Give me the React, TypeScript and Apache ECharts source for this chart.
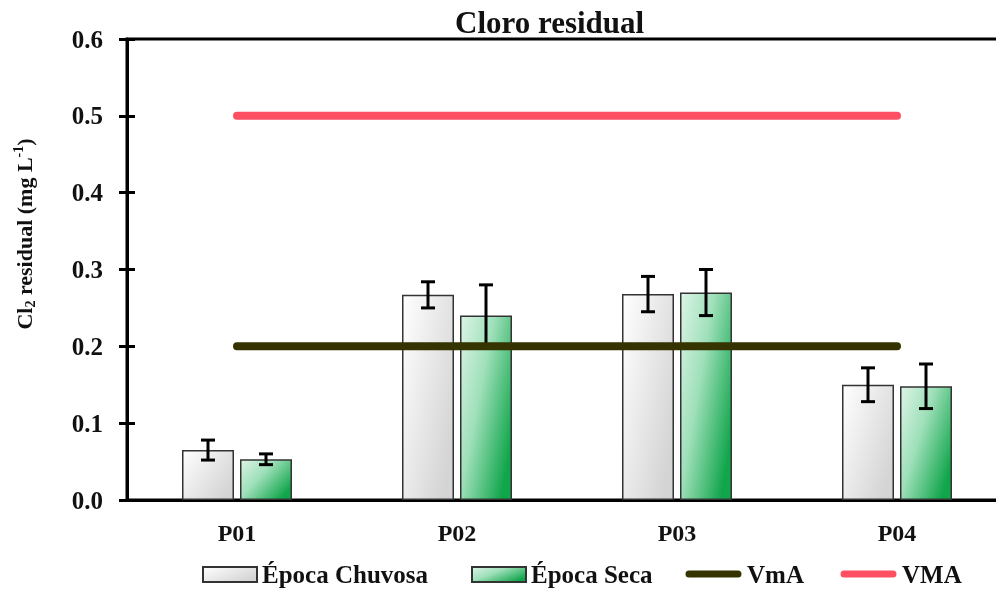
import React, { useEffect, useRef } from "react";
import * as echarts from "echarts";

const categories = ["P01", "P02", "P03", "P04"];
const chuvosa = [0.065, 0.267, 0.268, 0.15];
const chuvosaErr = [0.013, 0.017, 0.023, 0.022];
const seca = [0.053, 0.24, 0.27, 0.148];
const secaErr = [0.007, 0.04, 0.03, 0.029];
const vmaValue = [0.5, 0.5, 0.5, 0.5];
const vmaLow = [0.2, 0.2, 0.2, 0.2];
const yTicks = { min: 0, max: 0.6, interval: 0.1 };
const legendNames = ["Época Chuvosa", "Época Seca", "VmA", "VMA"];

const FONT = "'Liberation Serif', 'Times New Roman', serif";
const TXT = "#111";
const BAR_W = 52;
const GAP_PX = 6;
const LINE_ICON = "path://M0,0h0.05v0.05h-0.05Z M4,3.5h49a3.5,3.5 0 0 1 0,7h-49a3.5,3.5 0 0 1 0,-7Z M56.95,14.95h0.05v0.05h-0.05Z";

export default function App() {
  const ref = useRef<HTMLDivElement>(null);
  useEffect(() => {
    if (!ref.current) return;
    const chart = echarts.init(ref.current, undefined, { renderer: "svg" });

    const errData: any[] = [];
    chuvosa.forEach((v, i) => errData.push([i, v, chuvosaErr[i], 0]));
    seca.forEach((v, i) => errData.push([i, v, secaErr[i], 1]));

    const grayGrad = new echarts.graphic.LinearGradient(0, 0, 1, 0.7, [
      { offset: 0, color: "#ffffff" },
      { offset: 1, color: "#d4d4d4" },
    ]);
    const greenGrad = new echarts.graphic.LinearGradient(0, 0, 1, 0.7, [
      { offset: 0, color: "#dcf4e6" },
      { offset: 0.45, color: "#9fe0ba" },
      { offset: 1, color: "#12a64c" },
    ]);

    const legendLefts = [197, 466, 680, 835];
    const legendBase = {
      top: 557,
      itemHeight: 15,
      textStyle: { fontFamily: FONT, fontWeight: "bold", fontSize: 25, color: TXT },
    };
    const legends = legendNames.map((n, i) => ({
      ...legendBase,
      left: legendLefts[i],
      itemWidth: i < 2 ? 54 : 57,
      data: [{ name: n, icon: i < 2 ? "rect" : LINE_ICON }],
    }));

    chart.setOption({
      animation: false,
      title: {
        text: "Cloro residual",
        left: 450,
        top: 2,
        textStyle: { fontFamily: FONT, fontWeight: "bold", fontSize: 31, color: TXT },
      },
      grid: {
        left: 127,
        top: 39,
        width: 880,
        height: 461,
        outerBoundsMode: "none",
        containLabel: false,
        show: true,
        borderColor: "#000",
        borderWidth: 3,
        backgroundColor: "transparent",
      },
      legend: legends,
      xAxis: {
        type: "category",
        data: categories,
        axisLine: { lineStyle: { color: "#000", width: 3 } },
        axisTick: { alignWithLabel: true, length: 7, lineStyle: { color: "#000", width: 3 } },
        axisLabel: { fontFamily: FONT, fontWeight: "bold", fontSize: 24, color: TXT, margin: 21 },
        splitLine: { show: false },
      },
      yAxis: [
        {
          type: "value",
          min: yTicks.min,
          max: yTicks.max,
          interval: yTicks.interval,
          axisLine: { show: true, lineStyle: { color: "#000", width: 3 } },
          axisTick: { show: true, length: 8, lineStyle: { color: "#000", width: 3 } },
          axisLabel: {
            fontFamily: FONT,
            fontWeight: "bold",
            fontSize: 25,
            color: TXT,
            margin: 24,
            formatter: (v: number) => v.toFixed(1),
          },
          splitLine: { show: false },
        },
        {
          type: "value",
          position: "left",
          min: yTicks.min,
          max: yTicks.max,
          interval: yTicks.interval,
          axisLine: { show: false },
          axisTick: { show: true, inside: true, length: 8, lineStyle: { color: "#000", width: 3 } },
          axisLabel: { show: false },
          splitLine: { show: false },
        },
      ],
      graphic: [
        {
          type: "text",
          x: 24,
          y: 234,
          rotation: Math.PI / 2,
          style: {
            text: "{n|Cl}{sub|2}{n| residual (mg L}{sup|-1}{n|)}",
            align: "center",
            verticalAlign: "middle",
            fill: TXT,
            rich: {
              n: { fontFamily: FONT, fontWeight: "bold", fontSize: 22, lineHeight: 26, fill: TXT, verticalAlign: "middle" },
              sub: { fontFamily: FONT, fontWeight: "bold", fontSize: 14, lineHeight: 20, fill: TXT, verticalAlign: "bottom" },
              sup: { fontFamily: FONT, fontWeight: "bold", fontSize: 14, lineHeight: 20, fill: TXT, verticalAlign: "top" },
            },
          },
        },
      ],
      series: [
        {
          name: "Época Chuvosa",
          type: "bar",
          data: chuvosa,
          barWidth: BAR_W,
          barGap: `${(GAP_PX / BAR_W) * 100}%`,
          itemStyle: { color: grayGrad, borderColor: "#333", borderWidth: 1.5 },
          z: 2,
        },
        {
          name: "Época Seca",
          type: "bar",
          data: seca,
          barWidth: BAR_W,
          barGap: `${(GAP_PX / BAR_W) * 100}%`,
          itemStyle: { color: greenGrad, borderColor: "#333", borderWidth: 1.5 },
          z: 2,
        },
        {
          type: "custom",
          name: "err",
          data: errData,
          z: 3,
          renderItem: (params: any, api: any) => {
            const ci = api.value(0);
            const v = api.value(1);
            const e = api.value(2);
            const s = api.value(3);
            const off = ((BAR_W + GAP_PX) / 2) * (s === 0 ? -1 : 1);
            const top = api.coord([ci, v + e]);
            const bot = api.coord([ci, v - e]);
            const x = top[0] + off;
            const cap = 7;
            const st = { stroke: "#000", lineWidth: 3 };
            return {
              type: "group",
              children: [
                { type: "line", shape: { x1: x, y1: top[1], x2: x, y2: bot[1] }, style: st },
                { type: "line", shape: { x1: x - cap, y1: top[1], x2: x + cap, y2: top[1] }, style: st },
                { type: "line", shape: { x1: x - cap, y1: bot[1], x2: x + cap, y2: bot[1] }, style: st },
              ],
            };
          },
        },
        {
          name: "VmA",
          type: "line",
          data: vmaLow,
          symbol: "none",
          color: "#353300",
          itemStyle: { color: "#353300" },
          lineStyle: { color: "#353300", width: 8, cap: "round" },
          z: 4,
        },
        {
          name: "VMA",
          type: "line",
          data: vmaValue,
          symbol: "none",
          color: "#ff5063",
          itemStyle: { color: "#ff5063" },
          lineStyle: { color: "#ff5063", width: 8, cap: "round" },
          z: 4,
        },
      ],
    });
    return () => chart.dispose();
  }, []);
  return (
    <div
      ref={ref}
      style={{ position: "fixed", left: 0, top: 0, width: 996, height: 590, overflow: "hidden" }}
    />
  );
}
